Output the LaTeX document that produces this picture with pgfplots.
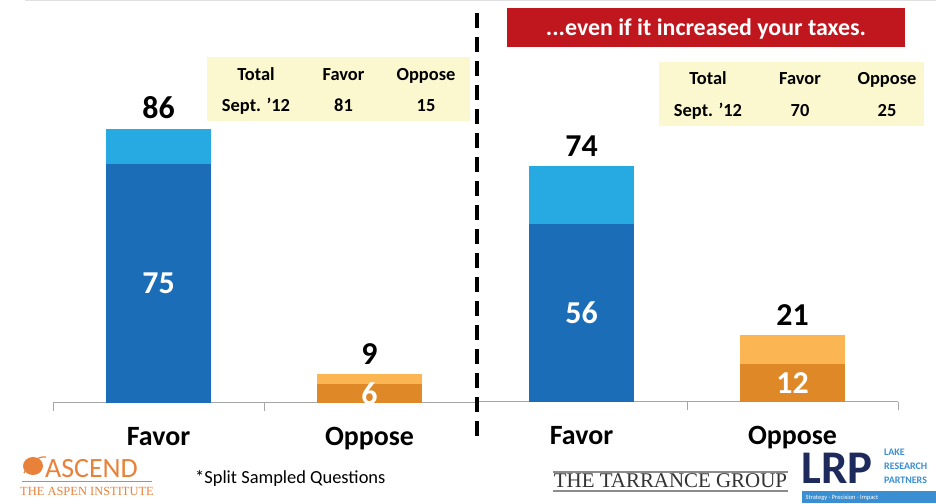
\documentclass[border=0pt]{standalone}
\usepackage{pgfplots}
\pgfplotsset{compat=1.18}
\usepackage{fontspec}
\setmainfont{Carlito}
\newfontfamily\serifl{Liberation Serif}
\definecolor{dblue}{HTML}{1A6DB6}
\definecolor{lblue}{HTML}{27A9E1}
\definecolor{dorange}{HTML}{DF8828}
\definecolor{lorange}{HTML}{FBB552}
\definecolor{boxyellow}{HTML}{FBF7CF}
\definecolor{bannerred}{HTML}{C0171F}
\definecolor{ascend}{HTML}{E8823A}
\definecolor{lrpnavy}{HTML}{1F2A5C}
\definecolor{lrpblue}{HTML}{3A8FD3}
\definecolor{axisgray}{HTML}{A6A6A6}
\pgfplotsset{
  panel/.style={
    scale only axis, width=422bp, height=318.6bp,
    xmin=-0.5, xmax=1.5, ymin=0, ymax=100,
    axis x line*=bottom, axis y line=none,
    x axis line style={axisgray, line width=1bp, -},
    xtick={0,1}, xticklabels={Favor,Oppose},
    major tick length=0pt,
    extra x ticks={-0.5,0.5,1.5}, extra x tick labels={},
    extra x tick style={major tick length=8bp, tick style={axisgray, line width=1bp}},
    tick align=outside,
    xticklabel style={font=\bfseries\fontsize{28}{28}\selectfont, anchor=base, inner sep=0pt, yshift=-43bp},
    /pgf/number format/assume math mode=true,
    clip=false,
  },
  totbar/.style={ybar, bar width=105bp, bar shift=0pt, draw=none, fill=#1,
    nodes near coords,
    every node near coord/.append style={font=\bfseries\fontsize{32}{32}\selectfont, text=black, anchor=base, yshift=10bp}},
  inbar/.style={ybar, bar width=105bp, bar shift=0pt, draw=none, fill=#1,
    visualization depends on={rawy \as \barh},
    nodes near coords,
    every node near coord/.append style={font=\bfseries\fontsize{32}{32}\selectfont, text=white, anchor=center, yshift={-1.593*\barh*1bp}}},
}
\begin{document}
\begin{tikzpicture}[x=1bp, y=1bp]
\useasboundingbox (0,0) rectangle (936,504);
\fill[white] (0,0) rectangle (936,504);
\draw[black!12, line width=1bp] (25,503.5) -- (936,503.5);

% left panel
\begin{axis}[panel, at={(53bp,101bp)}, anchor=south west]
\addplot[totbar=lblue] coordinates {(0,86)};
\addplot[inbar=dblue] coordinates {(0,75)};
\addplot[totbar=lorange] coordinates {(1,9)};
\addplot[inbar=dorange] coordinates {(1,6)};
\end{axis}

% right panel
\begin{axis}[panel, at={(476bp,102bp)}, anchor=south west]
\addplot[totbar=lblue] coordinates {(0,74)};
\addplot[inbar=dblue] coordinates {(0,56)};
\addplot[totbar=lorange] coordinates {(1,21)};
\addplot[inbar=dorange] coordinates {(1,12)};
\end{axis}

% dashed divider
\draw[line width=4bp, dash pattern=on 15bp off 9bp] (477,491) -- (477,59);

% banner
\fill[bannerred] (507,457) rectangle (905,496);
\node[text=white, font=\bfseries\fontsize{24}{24}\selectfont, anchor=base, inner sep=0pt] at (706,468.5) {...even if it increased your taxes.};

% left table
\fill[boxyellow] (207,383) rectangle (470,447);
\begin{scope}[every node/.style={font=\bfseries\fontsize{18.5}{18.5}\selectfont, anchor=base}]
\node at (256,423) {Total};
\node at (343.5,423) {Favor};
\node at (426,423) {Oppose};
\node at (256,392) {Sept. ’12};
\node at (343.5,392) {81};
\node at (426,392) {15};
\end{scope}

% right table
\fill[boxyellow] (659,378) rectangle (924,442);
\begin{scope}[every node/.style={font=\bfseries\fontsize{18.5}{18.5}\selectfont, anchor=base}]
\node at (708,419) {Total};
\node at (800,419) {Favor};
\node at (887,419) {Oppose};
\node at (708,387) {Sept. ’12};
\node at (800,387) {70};
\node at (887,387) {25};
\end{scope}

% footer: ASCEND
\fill[ascend] (33,38) ellipse (10bp and 9bp);
\draw[ascend, line width=1.2bp] (24,31) .. controls (30,42) and (38,48) .. (46,47);
\node[anchor=base west, text=ascend, font=\fontsize{28}{28}\selectfont, inner sep=0pt] at (45,26) {ASCEND};
\draw[ascend, line width=1bp] (22,22) -- (152,22);
\node[anchor=base, text=ascend, font=\serifl\fontsize{12.5}{12.5}\selectfont, inner sep=0pt] at (87,8) {THE ASPEN INSTITUTE};

\node[anchor=base west, font=\fontsize{18.5}{18.5}\selectfont, inner sep=0pt] at (195,20) {*Split Sampled Questions};

% Tarrance
\draw[black!45, line width=1.2bp] (553,32) -- (788,32);
\draw[black!45, line width=1.2bp] (553,13) -- (788,13);
\node[anchor=base, text=black!80, font=\serifl\fontsize{21}{21}\selectfont, inner sep=0pt] at (670.5,16) {THE TARRANCE GROUP};

% LRP
\node[anchor=base west, text=lrpnavy, font=\bfseries\fontsize{47}{47}\selectfont, inner sep=0pt] at (801,20) {LRP};
\node[anchor=north west, text=lrpblue, font=\bfseries\fontsize{10}{14}\selectfont, inner sep=0pt, align=left] at (884,55) {LAKE\\RESEARCH\\PARTNERS};
\fill[lrpblue] (802,1) rectangle (936,13);
\node[text=white, font=\fontsize{6.5}{6.5}\selectfont, inner sep=0pt] at (842,6.5) {Strategy · Precision · Impact};
\end{tikzpicture}
\end{document}
